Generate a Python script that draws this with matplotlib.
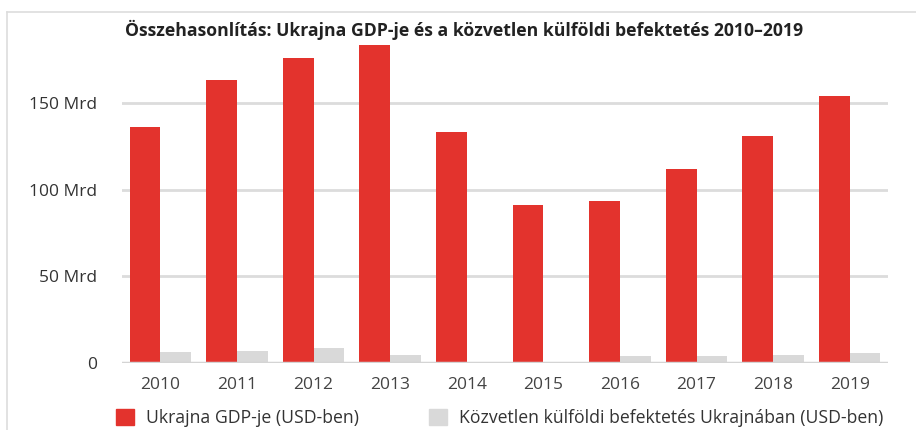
import numpy as np
import matplotlib.pyplot as plt
from matplotlib.lines import Line2D
from matplotlib.patches import Patch

years = ['2010', '2011', '2012', '2013', '2014', '2015', '2016', '2017', '2018', '2019']
gdp = [136.0, 163.2, 175.7, 183.3, 133.5, 91.0, 93.4, 112.2, 130.9, 153.9]
fdi = [6.5, 7.2, 8.4, 4.5, 0.8, 0.3, 4.0, 3.9, 4.8, 5.8]
ytick_vals = [0, 50, 100, 150]
ytick_labels = ['0', '50 Mrd', '100 Mrd', '150 Mrd']

red = '#e3332d'
grey = '#d9d9d9'
plt.rcParams['font.family'] = ['Open Sans', 'DejaVu Sans']

fig = plt.figure(figsize=(9.16, 4.30), dpi=100)
ax = fig.add_axes([122/916, 67/430, 766/916, 346.7/430])

x = np.arange(len(years))
w = 0.4
ax.bar(x - w/2, gdp, w, color=red, zorder=3)
ax.bar(x + w/2, fdi, w, color=grey, zorder=3)

ax.set_xlim(-0.5, len(years) - 0.5)
ax.set_ylim(0, 200)
ax.set_yticks(ytick_vals)
ax.set_yticklabels(ytick_labels, fontsize=12.5, color='#333333')
ax.set_xticks(x)
ax.set_xticklabels(years, fontsize=12.5, color='#444444')
ax.tick_params(axis='both', length=0)
ax.tick_params(axis='y', pad=18)
ax.tick_params(axis='x', pad=10)
for v in ytick_vals[1:]:
    ax.axhline(v, color='#dcdcdc', lw=2, zorder=1)
ax.axhline(0, color='#d4d4d4', lw=2.5, zorder=4)
for s in ax.spines.values():
    s.set_visible(False)

fig.text(125/916, 1 - 30/430, 'Összehasonlítás: Ukrajna GDP-je és a közvetlen külföldi befektetés 2010–2019',
         fontsize=12.7, fontweight='bold', color='#222222', va='center', ha='left')

handles = [Patch(color=red), Patch(color=grey)]
labels = ['Ukrajna GDP-je (USD-ben)', 'Közvetlen külföldi befektetés Ukrajnában (USD-ben)']
fig.legend(handles, labels, loc='center left', bbox_to_anchor=(100/916, 1 - 418/430),
           ncol=2, frameon=False, fontsize=12.7, handlelength=1.0, handleheight=1.0,
           columnspacing=4.0, handletextpad=0.7, labelcolor='#333333')

# light frame on top and left
fig.add_artist(Line2D([7/916, 1], [1 - 12/430, 1 - 12/430], color='#dddddd', lw=1.2))
fig.add_artist(Line2D([7/916, 7/916], [0, 1 - 12/430], color='#dddddd', lw=1.2))

fig.savefig('out.png', dpi=100)
